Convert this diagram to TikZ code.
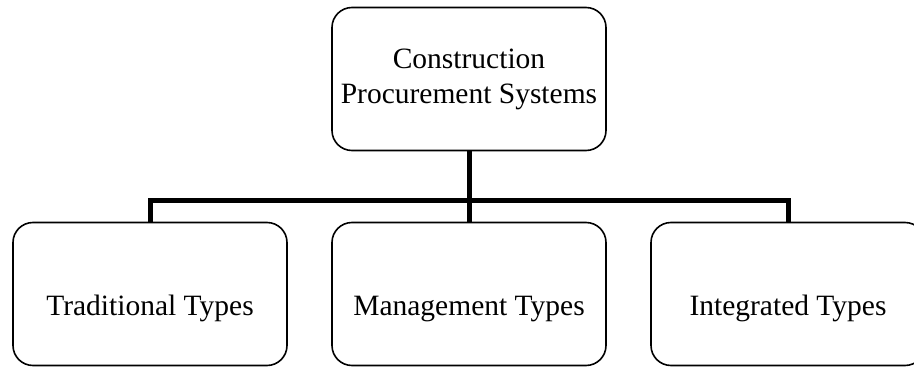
\documentclass[tikz,border=0pt]{standalone}
\usepackage{fontspec}
\setmainfont{Liberation Serif}
\begin{document}
\begin{tikzpicture}[x=1pt,y=-1pt,
  box/.style={draw=black, line width=1.6pt, rounded corners=20pt, fill=white,
    minimum width=274pt, minimum height=143pt, align=center,
    font=\fontsize{29.5}{35}\selectfont, inner sep=0pt},
  lowtext/.style={text height=42pt, text depth=0pt},
  link/.style={line width=5pt, line join=miter, line cap=butt}]
  \useasboundingbox (0,0) rectangle (914,367);
  \node[box] (top) at (469,79) {Construction\\Procurement Systems};
  \node[box, lowtext] (trad) at (150,294) {Traditional Types};
  \node[box, lowtext] (mgmt) at (469,294) {Management Types};
  \node[box, lowtext] (integ) at (788,294) {Integrated Types};
  \coordinate (bus) at (469,200);
  % tree connectors
  \draw[link] (top.south) -- (mgmt.north);
  \draw[link] (trad.north) -- (trad.north |- bus) -- (integ.north |- bus) -- (integ.north);
\end{tikzpicture}
\end{document}
